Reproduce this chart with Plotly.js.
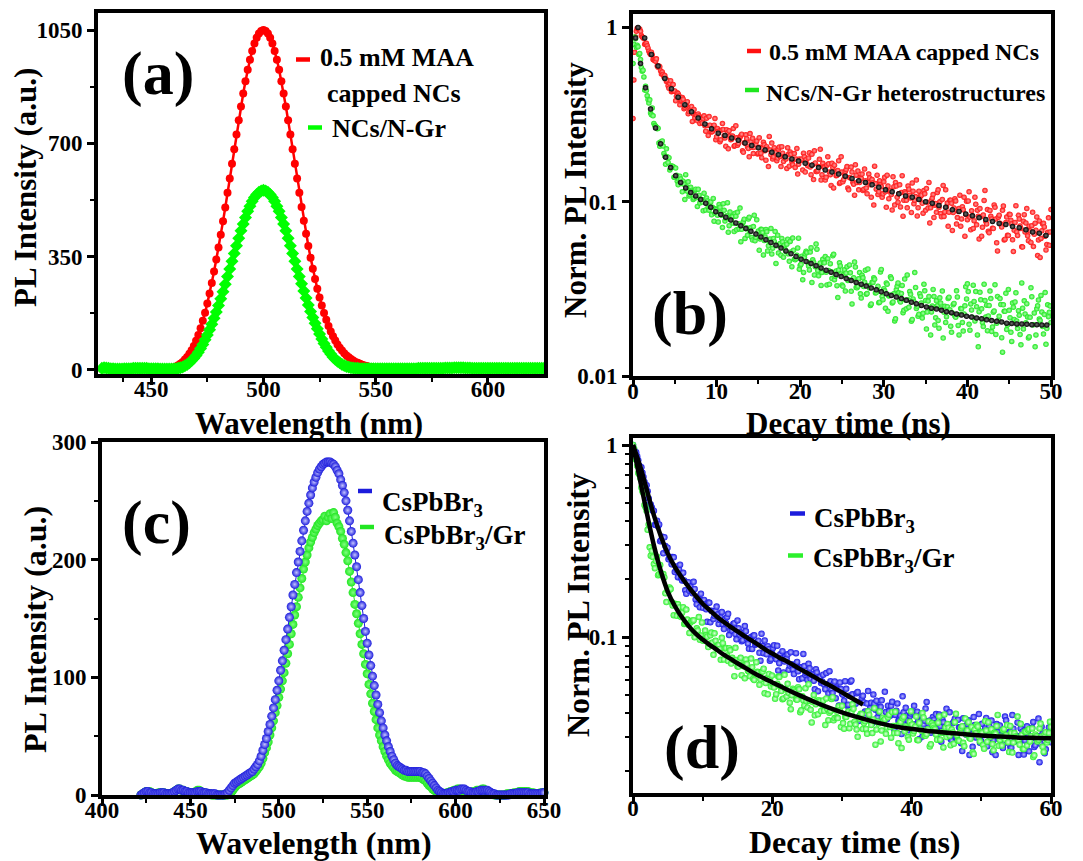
<!DOCTYPE html>
<html>
<head>
<meta charset="utf-8">
<script src="https://cdn.plot.ly/plotly-3.0.1.min.js"></script>
<style>
  html, body { margin: 0; padding: 0; background: #ffffff; }
  #chart { width: 1083px; height: 861px; }
</style>
</head>
<body>
<div id="chart"></div>
<script>
// ---------------- (a) steady-state PL: MAA-capped NCs vs NCs/N-Gr ----------------
const WL_A_START = 428;            // nm, 1 nm steps
const PL_A_MAA = [
  3,4,4,3,3,2,2,2,2,3,3,3,3,3,3,4,4,4,4,4,4,4,3,3,3,3,3,3,
  3,4,5,6,8,11,15,19,25,32,40,50,61,74,90,108,129,152,177,205,236,269,304,341,378,418,459,502,547,591,637,682,727,771,814,854,892,927,958,985,1008,1026,1039,1047,
  1050,1047,1039,1026,1008,985,958,927,892,854,814,771,727,682,637,591,547,503,461,421,383,347,313,281,251,224,199,176,155,136,119,104,91,79,69,60,52,45,39,34,29,25,22,19,16,14,12,10,9,8,7,6,5,5,4,4,
  4,3,3,3,3,3,3,3,3,3, 3,3,3,3,3,3,3,4,4,4, 4,4,4,4,4,5,5,5,5,5, 5,5,5,5,5,5,5,4,4,4, 4,4,4,4,3,3,3,3,3,3, 3,3,3,3,3,3,3,3,3,3, 3,3,3,3,3,3,3,3,3,3
];
const PL_A_NGR = [
  5,7,6,5,4,4,3,3,3,3,4,4,4,4,5,5,5,5,5,5,5,4,4,4,4,4,3,3,3,3,3,3,
  3,4,5,7,9,13,17,22,29,36,45,55,66,79,93,108,124,141,160,179,199,220,242,265,289,312,336,360,384,407,430,451,471,490,506,521,533,542,549,553,
  555,553,549,542,533,521,506,490,471,451,430,407,384,360,336,312,289,266,244,222,201,181,162,144,127,111,96,82,70,59,49,40,33,27,22,17,14,11,9,7,6,5,5,4,4,4,
  4,4,4,4,4,4,4,4,4,4, 4,4,4,4,4,4,4,4,4,4, 4,4,4,5,5,5,5,5,5,5, 5,5,5,5,5,6,6,6,6,7, 7,7,7,7,6,6,6,5,5,5, 5,5,5,5,5,5,5,5,5,5, 5,5,5,5,5,5,5,5,5,5, 5,5,5,5,5,5,5,5,5,5
];

// ---------------- (b) TRPL decays with fits ----------------
// counts are stored as two interleaved channel sets: t = 0.2k and t = 0.1 + 0.2k (ns)
const T_B_STEP = 0.2;
const DECAY_B_MAA_EVEN = [
  0.30,0.72,0.95,0.99,0.98,0.90,0.875,0.80,0.81,0.76,
  0.71,0.72,0.655,0.645,0.66,0.59,0.595,0.54,0.537,0.53,
  0.49,0.462,0.478,0.427,0.47,0.432,0.403,0.416,0.36,0.383,
  0.387,0.348,0.357,0.32,0.345,0.352,0.32,0.303,0.315,0.319,
  0.281,0.29,0.30,0.273,0.301,0.24,0.275,0.251,0.26,0.30,
  0.236,
  .254,.221,.258,.260,.232,.259,.201,.238,.228,.263,
  .210,.233,.216,.234,.244,.192,.217,.23,.202,.246,
  .205,.189,.215,.223,.19,.205,.179,.219,.196,.207,
  .159,.198,.217,.181,.195,.172,.2,.182,.207,.17,
  .182,.155,.187,.193,.17,.175,.157,.202,.164,.172,
  .176,.190,.148,.165,.178,.158,.187,.134,.167,.149,
  .159,.200,.143,.158,.133,.162,.165,.143,.166,.120,
  .149,.142,.172,.129,.148,.134,.149,.159,.117,.137,
  .148,.126,.163,.129,.117,.138,.144,.118,.132,.111,
  .144,.125,.134,.0957,.127,.142,.114,.125,.106,.130,
  .114,.142,.104,.116,.0896,.122,.129,.106,.111,.0933,
  .141,.102,.112,.0922,.118,.105,.128,.0973,.107,.0828,
  .115,.108,.0979,.116,.0892,.0994,.129,.0922,.105,.0812,
  .0977,.113,.0928,.0855,.103,.0823,.117,.0982,.087,.102,
  .0684,.0921,.101,.0811,.0914,.0723,.0937,.106,.0845,.0789,
  .114,.069,.0832,.0778,.0967,.0893,.0611,.082,.0713,.1016,
  .077,.0901,.0663,.0824,.0704,.0959,.0797,.0522,.0837,.0739,
  .0892,.0602,.076,.0642,.0848,.0783,.0604,.0686,.0949,.064,
  .0796,.0702,.0549,.0843,.0755,.0637,.0724,.0584,.0869,.065,
  .0686,.0491,.0776,.0616,.0744,.0717,.0528,.0667,.0562,.0902
];
const DECAY_B_MAA_ODD = [
  .50,.88,.99,.97,.95,.88,.86,.80,.785,.73,.70,.695,.65,.64,.60,.60,.565,.555,.52,.51,
  .497,.447,.495,.431,.43,.38,.422,.406,.38,.396, .342,.356,.375,.329,.337,.289,.338,.315,.291,.31,
  .303,.283,.311,.254,.274,.308,.253,.253,.275,.227,
  .263,.253,.227,.281,.239,.208,.249,.255,.227,.238, .208,.273,.211,.228,.239,.196,.218,.242,.207,.181,
  .221,.231,.205,.213,.188,.233,.19,.202,.212,.173, .2,.237,.186,.176,.204,.192,.178,.206,.159,.19,
  .1815,.176,.204,.16,.187,.163,.189,.176,.144,.176,
  .173,.152,.181,.174,.161,.191,.143,.163,.196,.149, .151,.175,.133,.166,.157,.138,.181,.148,.124,.157,
  .162,.141,.151,.127,.181,.13,.143,.153,.12,.1375, .158,.129,.109,.142,.15,.129,.136,.116,.154,.12,
  .129,.137,.106,.128,.16,.118,.11,.132,.122,.111,
  .138,.0928,.123,.115,.11,.139,.0957,.123,.0994,.125, .113,.0826,.114,.102,.123,.109,.0868,.115,.102,.133,
  .0923,.1028,.109,.0859,.111,.119,.0919,.0754,.102,.11, .0954,.0869,.117,.0998,.082,.124,.0874,.0937,.0722,.102,
  .0979,.0868,.104,.0744,.0883,.109,.0797,.0899,.0634,.1005,
  .101,.0816,.0887,.0703,.106,.0737,.0826,.0913,.0634,.0839, .116,.0745,.0676,.0891,.0796,.0702,.0928,.0581,.0815,.0752,
  .0715,.0945,.0609,.0817,.064,.0845,.0746,.0518,.076,.0671, .0835,.0725,.0551,.0773,.0671,.0914,.0598,.068,.0729,.0553,
  .0753,.0818,.0603,.0479,.0682,.0752,.0634,.0568,.0808,.0671
];
const DECAY_B_NGR_EVEN = [
  0.62,0.88,0.77,0.775,0.709,0.589,0.568,0.438,0.434,0.386,
  0.384,0.315,0.311,0.274,0.267,0.264,0.208,0.213,0.209,0.183,
  0.201,0.168,0.152,0.161,0.159,0.138,0.142,0.125,0.14,0.127,
  0.131,0.103,0.122,0.130,0.110,0.116,0.103,0.116,0.1055,0.118,
  0.0984,0.103,0.0886,0.103,0.105,0.0934,0.094,0.0841,0.1045,0.086,
  0.0898,
  .0765,.0929,.0837,.0975,.0776,.0832,.0668,.0873,.0819,.0752,
  .0858,.069,.0748,.0919,.0694,.0767,.0616,.071,.0795,.0672,
  .0624,.072,.0597,.0788,.068,.0612,.0692,.0495,.0628,.0673,
  .0558,.0612,.0501,.0615,.0674,.0558,.0508,.0575,.0616,.048,
  .0531,.057,.0502,.0592,.0424,.0527,.0464,.0493,.0618,.043,
  .0487,.0393,.0503,.0511,.0428,.0514,.0344,.045,.0424,.0534,
  .0376,.0445,.0393,.0448,.0485,.0333,.0403,.0441,.0362,.0499,
  .0374,.033,.0406,.0428,.0333,.038,.0307,.0424,.0357,.0391,
  .0259,.0366,.0422,.0321,.0361,.0296,.0378,.0326,.0405,.0297,
  .033,.0254,.0345,.0366,.0299,.0312,.0263,.0395,.0286,.0317,
  .0245,.0336,.0288,.0371,.0262,.0296,.0213,.0327,.03,.0266,
  .0331,.0238,.0273,.038,.0248,.0294,.0211,.0267,.0322,.0251,
  .0226,.0286,.0215,.0336,.0271,.0233,.0286,.0172,.0252,.0286,
  .0216,.0253,.0188,.0262,.0307,.0232,.0203,.025,.0283,.0193,
  .023,.0261,.0217,.0284,.0172,.0244,.0203,.0227,.0325,.0338,
  .0198,.0259,.0217,.0268,.0305,.0172,.0234,.0274,.0203,.0336,
  .0218,.0182,.0254,.0278,.0191,.0236,.0173,.0286,.022,.0257,
  .0137,.0235,.0298,.0196,.0238,.0178,.0262,.0211,.03,.0187,
  .0223,.0151,.0245,.027,.0202,.0218,.0168,.0321,.0197,.023,
  .0172,.0253,.0212,.029,.0192,.0225,.0152,.0256,.0232,.0203
];
const DECAY_B_NGR_ODD = [
  .80,.86,.79,.70,.655,.56,.52,.46,.405,.368,
  .323,.345,.281,.272,.262,.217,.22,.223,.189,.164, .181,.179,.156,.157,.138,.156,.131,.134,.135,.114,
  .126,.143,.115,.108,.121,.114,.105,.118,.094,.109, .103,.0995,.112,.0896,.101,.0893,.0997,.0928,.0773,.091,
  .0836,.0963,.0868,.0711,.0892,.0804,.0987,.0729,.079,.0821, .0674,.0826,.0869,.0698,.059,.0748,.0794,.07,.0643,.0814,
  .0711,.0602,.0836,.0625,.0657,.0527,.0696,.0666,.0599,.0692, .0522,.0596,.0703,.054,.0592,.0442,.0642,.0566,.0493,.0588,
  .0562,.0517,.0609,.0455,.0514,.0619,.0467,.0471,.0543,.041,
  .0437,.0357,.048,.052,.0449,.0406,.0545,.0464,.038,.0572, .0403,.043,.0331,.0467,.0446,.0394,.0471,.0336,.0397,.0489,
  .0357,.0401,.0282,.0446,.0385,.0327,.0407,.0389,.0353,.0434, .0306,.0358,.0451,.0322,.0327,.0392,.028,.0366,.0345,.0294,
  .0411,.032,.0259,.0344,.0359,.0301,.0327,.0265,.0409,.0274,
  .0308,.0342,.0235,.0292,.0363,.0266,.0207,.0313,.0342,.0271, .0297,.0231,.036,.0243,.0274,.0305,.0206,.0277,.0392,.0244,
  .022,.0296,.0262,.0229,.0308,.0186,.0269,.0246,.0233,.0314, .0196,.027,.0208,.0281,.0245,.0165,.0251,.0219,.0278,.024,
  .0178,.0256,.0221,.0308,.0195,.0225,.0243,.0181,.0253,.0277,
  .0305,.0183,.0239,.0332,.0207,.025,.0147,.0302,.0243,.0192, .0271,.0255,.0221,.0307,.018,.0232,.0334,.0201,.0208,.0278,
  .0166,.0256,.0235,.0185,.0314,.0216,.0158,.0248,.0266,.0207, .0237,.0173,.0342,.0186,.0227,.026,.0165,.0217,.0285,.0197,
  .0147,.0243,.0273,.0208,.0233,.0174,.0301,.0187,.0219,.0252
];
const FIT_B_MAA_T0 = 0.6, FIT_B_MAA_DT = 0.8;
const FIT_B_MAA = [
  1.0,0.87,0.70,0.60,0.51,0.445,0.398,0.36,0.328,0.302,0.279,0.262,0.247,0.240,0.232,0.225,
  0.217,0.210,0.204,0.198,0.192,0.186,0.181,0.176,0.171,0.166,0.162,0.157,0.152,0.148,0.144,
  0.140,0.136,0.132,0.129,0.125,0.121,0.117,0.114,0.111,0.108,0.106,0.103,0.100,0.098,0.095,
  0.093,0.090,0.088,0.085,0.083,0.081,0.079,0.077,0.075,0.074,0.072,0.071,0.069,0.067,0.066,0.064
];
const FIT_B_NGR_T0 = 0.3, FIT_B_NGR_DT = 0.6;
const FIT_B_NGR = [
  0.87,0.62,0.45,0.34,0.265,0.215,0.18,0.157,0.141,0.129,0.12,0.113,0.108,0.103,0.098,0.093,
  0.0877,0.0845,0.0815,0.0785,0.0756,0.0728,0.0702,0.0676,0.0652,0.0628,0.0605,0.0583,0.0562,
  0.0542,0.0522,0.0503,0.0485,0.0468,0.0454,0.0442,0.0429,0.0417,0.0405,0.0394,0.0382,0.0372,
  0.0362,0.0353,0.0344,0.0336,0.0328,0.032,0.0312,0.0304,0.0296,0.029,0.0284,0.0278,0.0272,
  0.0265,0.026,0.0254,0.0249,0.0245,0.0242,0.0238,0.0234,0.0231,0.0227,0.0224,0.022,0.0218,
  0.0215,0.0213,0.021,0.0208,0.0206,0.0204,0.0201,0.02,0.0199,0.0199,0.0198,0.0197,0.0197,
  0.0196,0.0196
];

// ---------------- (c) steady-state PL: CsPbBr3 vs CsPbBr3/Gr ----------------
const WL_C_START = 422;            // nm, 1 nm steps
const PL_C_CSPBBR3 = [
  0,1,2,3,3,2,2,1,1,1,1,2,2,2,1,1,1,1,2,3,4,5,5,4,4,3,3,2,2,2,2,2,3,3,3,2,2,2,1,1,1,1,1,0,0,0,0,0,1,2,
  4,6,8,10,11,12,13,14,15,16,17,18,19,20,22,24,26,29,33,38,43,48,54,60,67,74,81,89,97,106,114,123,132,141,151,160,170,179,189,198,207,216,225,233,241,248,
  255,261,266,270,274,277,279,281,282,283,283,283,282,281,279,276,273,268,263,257,250,242,233,224,214,204,194,183,172,161,150,139,129,119,110,101,93,85,77,70,63,57,51,46,41,37,33,30,27,25,24,23,22,
  21,21,20,20,20,20,20,20,20,20, 19,19,18,16,14,12,10,8,6,4, 3,2,1,1,1,2,2,3,3,4, 4,4,5,5,5,4,3,3,2,2,
  2,3,3,4,4,4,4,4,3,2, 1,1,0,0,0,0,0,0,0,0, 1,1,1,1,2,2,2,2,2,2, 2,1,1,1,1,1,1,1,2,2
];
const PL_C_GR = [
  0,1,2,3,3,3,2,1,1,1,2,2,2,2,1,1,1,1,2,3,4,5,5,4,4,3,3,2,2,2,2,3,4,4,3,2,2,1,1,1,0,0,0,0,0,0,0,0,0,0,
  1,2,4,6,8,9,10,11,12,13,14,15,16,17,18,20,22,24,27,31,36,40,45,51,57,63,70,76,83,90,97,104,112,120,128,137,145,153,160,168,176,184,192,198,204,210,
  215,219,223,226,229,231,233,234,237,233,236,239,235,240,236,231,228,224,218,213,206,199,190,181,172,162,154,146,137,128,120,111,103,94,86,78,71,64,57,51,46,41,37,33,30,27,25,23,21,20,19,18,17,
  16,16,15,15,15,15,15,15,15,15, 14,13,12,10,8,7,5,4,3,2, 1,1,1,1,2,2,3,3,4,4, 5,5,4,4,3,3,2,2,2,3,
  3,4,4,4,5,5,4,3,2,1, 1,0,0,0,0,0,0,0,1,1, 1,1,2,2,2,3,3,3,3,3, 3,2,2,2,1,1,1,2,2,2
];

// ---------------- (d) TRPL decays with fits ----------------
// two interleaved channel sets: t = 0.3k and t = 0.15 + 0.3k (ns)
const T_D_STEP = 0.3;
const DECAY_D_CSPBBR3_EVEN = [
  1.0,.912,.875,.781,.766,.681,.61,.574,.488,.472,.455,
  .383,.377,.315,.333,.331,.282,.254,.261,.261,.218,
  .223,.225,.203,.216,.175,.191,.174,.175,.194,.157,
  .162,.143,.156,.156,.1395,.1514,.1193,.136,.129,.144,
  .117,.1265,.1167,.1236,.1273,.1023,.1124,.1168,.1036,.122,
  .103,.095,.105,.1072,.0925,.0982,.0867,.1021,.0923,.0956,
  .0753,.0898,.0959,.0813,.0864,.0767,.0877,.0791,.09,.0731,
  .0777,.0654,.0791,.0812,.071,.0722,.0641,.0824,.0663,.0696,
  .0609,.0706,.065,.0726,.0605,.0636,.0534,.0654,.0619,.0576,
  .0636,.0535,.0567,.0664,.0531,.0572,.048,.0534,.058,.0507,
  .0466,.0537,.0444,.0585,.0503,.0452,.051,.0365,.0461,.0494,
  .0409,.045,.0369,.0455,.0502,.0418,.0382,.0434,.0468,.0366,
  .0407,.0439,.0389,.046,.0331,.0413,.0366,.039,.0491,.035,
  .0389,.0327,.0399,.0405,.0351,.0408,.0294,.0367,.035,.0424,
  .0318,.0367,.0333,.0371,.0397,.0293,.0344,.0372,.0317,.0423,
  .0327,.0294,.0355,.0375,.0299,.0339,.028,.0377,.0322,.0352,
  .0243,.0334,.0383,.03,.0335,.0281,.0353,.0309,.0379,.0286,
  .0317,.0251,.0332,.0352,.0295,.0308,.0264,.0385,.0289,.0316,
  .0265,.0333,.03,.0359,.0282,.0308,.0244,.0332,.0312,.0288,
  .0337,.0267,.0295,.0376,.0278,.0314,.0248,.0295,.0338,.0283
];
const DECAY_D_CSPBBR3_ODD = [
  .951,.917,.834,.742,.716,.642,.617,.527,.49,.455,
  .384,.403,.386,.32,.273,.298,.292,.26,.239,.26, .233,.205,.238,.197,.197,.168,.193,.183,.169,.178,
  .148,.157,.168,.142,
  .148,.12,.151,.137,.124,.137,.131,.123,.135,.11, .118,.132,.109,.108,.118,.0972,.111,.106,.0963,.114,
  .0985,.0868,.1,.1016,.0912,.0944,.0827,.104,.0824,.087, .0896,.0753,.0822,
  .0906,.0766,.0669,.0813,.0844,.0745,.0772,.0675,.0833,.0678, .0712,.0742,.0603,.0691,.0816,.0636,.0598,.0687,.064,.0592,
  .0679,.0522,.0618,.0586,.0565,.0649,.0508,.0588,.0511,.0586, .0543,.044,.0536,
  .0501,.0589,.0438,.0494,.0593,.0446,.0449,.0517,.0389,.0482, .0456,.0399,.0523,.0425,.0357,.045,.0466,.0404,.0432,.0363,
  .0518,.0373,.041,.0438,.0343,.0393,.0451,.0368,.0312,.0405, .0428,.0368,.0388,.033,.0438,.0339,.0366,.0391,.0303,.0367,
  .0459,.0338,.0317,.0383,.0355,.0325,.0395,.0285,.036,.034,
  .0327,.0405,.0289,.0362,.03,.0371,.0338,.0255,.0342,.031, .0368,.033,.0268,.0348,.0313,.0397,.0287,.0317,.0334,.027,
  .0343,.0367,.029,.0243,.032,.0346,.0304,.0279,.0368,.0319, .0268,.0392,.0286,.0306,.0243,.0334,.0322,.0289,.0343,.0254,
  .0297,.0361,.0273,.0305,.0223,.0341,.03,.026,.0319,.0308
];
const DECAY_D_GR_EVEN = [
  1.0,.851,.78,.702,.60,.563,.474,.362,.293,.281,.24,
  .249,.21,.237,.209,.204,.152,.173,.178,.146,.149,
  .129,.1426,.127,.143,.118,.1232,.105,.1214,.1223,.1073,
  .108,.0967,.119,.0976,.102,.0887,.1021,.0935,.1045,.0868,
  .0909,.0761,.0929,.087,.0801,.0875,.0727,.076,.0878,.0701,
  .0755,.0633,.0704,.0764,.0667,.0625,.0696,.0598,.0738,.0656,
  .0602,.0661,.0509,.061,.0642,.0553,.0568,.0477,.0571,.0619,
  .0523,.0479,.0535,.057,.0455,.0498,.053,.0474,.0548,.0406,
  .0492,.044,.0464,.0568,.0418,.0458,.0391,.0465,.0469,.0412,
  .0467,.0348,.0422,.0403,.0476,.0368,.0414,.0378,.0414,.0438,
  .0333,.0383,.0409,.0353,.0446,.0362,.033,.0383,.0398,.0332,
  .0365,.0313,.0394,.0348,.0372,.0275,.0363,.0409,.0326,.0367,
  .0313,.0382,.034,.0407,.0316,.0345,.028,.0361,.0377,.0323,
  .0335,.0292,.041,.0314,.0341,.0291,.0357,.0325,.0381,.0306,
  .0331,.0269,.0355,.0336,.0311,.0358,.0292,.0319,.0395,.0301,
  .0337,.0273,.0318,.036,.0308,.0288,.0336,.0281,.0376,.0327,
  .0298,.034,.0246,.0315,.0342,.0286,.0317,.0262,.0326,.036,
  .0302,.0277,.0317,.0344,.0271,.0303,.0328,.0293,.0348,.0252,
  .0317,.0282,.0303,.0385,.0275,.0309,.0261,.0321,.0328,.0286,
  .0334,.0242,.0304,.0292,.0354,.0268,.031,.0282,.0316,.034
];
const DECAY_D_GR_ODD = [
  .955,.836,.715,.672,.574,.487,.455,.386,.265,.261,
  .228,.262,.212,.214,.213,.169,.176,.181,.152,.13, .148,.148,.129,.134,.117,.139,.116,.119,.121,.0997,
  .111,.127,.1017,.0956,
  .108,.1003,.0922,.1055,.0808,.0956,.0903,.0866,.099,.0764, .0876,.075,.0852,.0779,.0625,.076,.0701,.078,.0715,.0609,
  .0723,.0662,.0772,.0607,.0643,.066,.0564,.0659,.0684,.0576, .0503,.0603,.063,
  .0545,.0504,.0622,.0551,.0474,.0635,.049,.0512,.0421,.0538, .0518,.0471,.0534,.0415,.0468,.0541,.0429,.0466,.0359,.0499,
  .0446,.0396,.0462,.0444,.0413,.0479,.0369,.0412,.0486,.0378, .0382,.0436,.034,
  .0356,.0384,.0399,.0335,.0404,.0423,.035,.0302,.0375,.0397, .0356,.0332,.041,.0365,.0316,.0426,.033,.0354,.0286,.038,
  .0373,.0338,.0394,.0299,.0344,.0408,.0316,.035,.0264,.0384, .0342,.0301,.0362,.035,.0324,.0385,.029,.0331,.0402,.0306,
  .0312,.0363,.0276,.0346,.0331,.0292,.0386,.0316,.0266,.0338,
  .0352,.0306,.033,.0278,.0398,.0289,.032,.0343,.027,.0311, .036,.0295,.0251,.0329,.0349,.0302,.032,.0274,.0365,.0285,
  .0308,.0331,.0257,.0314,.0393,.0291,.0272,.0332,.0308,.0283, .0344,.025,.0316,.03,.0291,.0353,.0261,.0321,.0272,.0332,
  .0304,.0237,.0311,.0286,.0334,.0303,.0252,.0319,.0291,.0362
];
const FIT_D_CSPBBR3_T = [0,1,2,3,4,5,6,7,8,9,10,11,12,13,14,15,16,17,18,19,20,21,22,23,24,25,26,27,28,29,30,31,32,33];
const FIT_D_CSPBBR3 = [1,0.78,0.58,0.43,0.335,0.272,0.232,0.204,0.182,0.164,0.149,0.138,0.128,0.12,0.113,0.107,0.101,0.096,0.091,0.086,0.082,0.078,0.075,0.0715,0.068,0.065,0.062,0.059,0.0565,0.054,0.0515,0.049,0.0467,0.0445];
const FIT_D_GR_T = [0,1,2,3,4,5,6,7,8,9,10,11,12,13,14,15,16,17,18,19,20,22,24,26,28,30,32,34,36,38,40,42,44,46,48,50,52,54,56,58,60];
const FIT_D_GR = [1,0.66,0.44,0.30,0.22,0.172,0.145,0.127,0.114,0.104,0.097,0.091,0.086,0.081,0.077,0.073,0.0695,0.066,0.063,0.0605,0.058,0.0535,0.0495,0.046,0.043,0.0405,0.0385,0.0367,0.0352,0.034,0.0332,0.0325,0.032,0.0315,0.0311,0.0307,0.0304,0.0301,0.0299,0.0298,0.0297];

// ---------------- tick labels ----------------
const TICKS_A_X = [450, 500, 550, 600];
const TICKS_A_Y = [0, 350, 700, 1050];
const TICKS_B_X = [0, 10, 20, 30, 40, 50];
const TICKS_B_Y = [0.01, 0.1, 1];
const TICKS_B_Y_TEXT = ['0.01', '0.1', '1'];
const TICKS_C_X = [400, 450, 500, 550, 600, 650];
const TICKS_C_Y = [0, 100, 200, 300];
const TICKS_D_X = [0, 20, 40, 60];
const TICKS_D_Y = [0.1, 1];
const TICKS_D_Y_TEXT = ['0.1', '1'];

// ---------------- helpers ----------------
const W = 1083, H = 861;
const px = v => v / W;
const py = v => 1 - v / H;
const grid = (start, step, n) => Array.from({ length: n }, (_, i) => +(start + i * step).toFixed(3));
const midpoints = v => v.slice(1).map((b, i) => (b + v[i]) / 2);
function interleave(a, b) {
  const out = [];
  a.forEach((v, i) => { out.push(v); if (i < b.length) out.push(b[i]); });
  return out;
}
const logMinor = [0.02,0.03,0.04,0.05,0.06,0.07,0.08,0.09,0.2,0.3,0.4,0.5,0.6,0.7,0.8,0.9];

const FONT = '"Liberation Serif", "Times New Roman", Times, serif';
const RED = '#ff0000', GREEN = '#00ff00', BLUE = '#1c1cdc';

function axis(extra) {
  return Object.assign({
    showline: true, linecolor: '#000', linewidth: 4, mirror: true,
    ticks: 'outside', ticklen: 7, tickwidth: 3, tickcolor: '#000',
    showgrid: false, zeroline: false, automargin: false, fixedrange: true,
    tickmode: 'array',
    tickfont: { family: FONT, size: 23, color: '#000', weight: 'bold' }
  }, extra);
}
function minor(vals) {
  return { tickvals: vals, ticks: 'outside', ticklen: 4, tickwidth: 2, tickcolor: '#000', showgrid: false };
}

// ---------------- traces ----------------
const traces = [];
const base = { hoverinfo: 'skip', showlegend: false };

// (a)
traces.push(Object.assign({
  x: grid(WL_A_START, 1, PL_A_MAA.length), y: PL_A_MAA, xaxis: 'x', yaxis: 'y',
  type: 'scatter', mode: 'lines+markers',
  line: { color: RED, width: 2.5 },
  marker: { symbol: 'circle', size: 8, color: RED, line: { width: 0 } }
}, base));
traces.push(Object.assign({
  x: grid(WL_A_START, 1, PL_A_NGR.length), y: PL_A_NGR, xaxis: 'x', yaxis: 'y',
  type: 'scatter', mode: 'lines+markers',
  line: { color: GREEN, width: 2 },
  marker: { symbol: 'diamond', size: 10, color: GREEN, line: { width: 0 } }
}, base));

// (b)
const decayBMaa = interleave(DECAY_B_MAA_EVEN, DECAY_B_MAA_ODD);
const decayBNgr = interleave(DECAY_B_NGR_EVEN, DECAY_B_NGR_ODD);
traces.push(Object.assign({
  x: grid(0, T_B_STEP / 2, decayBMaa.length), y: decayBMaa, xaxis: 'x2', yaxis: 'y2',
  type: 'scatter', mode: 'markers',
  marker: { size: 5.5, color: '#ff1010', gradient: { type: 'radial', color: '#ff9a9a' }, line: { width: 0 } }
}, base));
traces.push(Object.assign({
  x: grid(0, T_B_STEP / 2, decayBNgr.length), y: decayBNgr, xaxis: 'x2', yaxis: 'y2',
  type: 'scatter', mode: 'markers',
  marker: { size: 5.5, color: '#1ee61e', gradient: { type: 'radial', color: '#a8ffa8' }, line: { width: 0 } }
}, base));
traces.push(Object.assign({
  x: grid(FIT_B_MAA_T0, FIT_B_MAA_DT, FIT_B_MAA.length), y: FIT_B_MAA, xaxis: 'x2', yaxis: 'y2',
  type: 'scatter', mode: 'markers',
  marker: { size: 5.5, color: '#000', gradient: { type: 'radial', color: '#707070' }, line: { width: 0 } }
}, base));
traces.push(Object.assign({
  x: grid(FIT_B_NGR_T0, FIT_B_NGR_DT, FIT_B_NGR.length), y: FIT_B_NGR, xaxis: 'x2', yaxis: 'y2',
  type: 'scatter', mode: 'markers',
  marker: { size: 5.5, color: '#000', gradient: { type: 'radial', color: '#707070' }, line: { width: 0 } }
}, base));

// (c)
traces.push(Object.assign({
  x: grid(WL_C_START, 1, PL_C_GR.length), y: PL_C_GR, xaxis: 'x3', yaxis: 'y3',
  type: 'scatter', mode: 'lines+markers', cliponaxis: false,
  line: { color: '#22e622', width: 1 },
  marker: { size: 9, color: '#22e622', gradient: { type: 'radial', color: '#80ff80' }, line: { width: 0 } }
}, base));
traces.push(Object.assign({
  x: grid(WL_C_START, 1, PL_C_CSPBBR3.length), y: PL_C_CSPBBR3, xaxis: 'x3', yaxis: 'y3',
  type: 'scatter', mode: 'lines+markers', cliponaxis: false,
  line: { color: BLUE, width: 1 },
  marker: { size: 9, color: BLUE, gradient: { type: 'radial', color: '#c4c4ff' }, line: { width: 0 } }
}, base));

// (d)
const decayDCs = interleave(DECAY_D_CSPBBR3_EVEN, DECAY_D_CSPBBR3_ODD);
const decayDGr = interleave(DECAY_D_GR_EVEN, DECAY_D_GR_ODD);
traces.push(Object.assign({
  x: grid(0, T_D_STEP / 2, decayDCs.length), y: decayDCs, xaxis: 'x4', yaxis: 'y4',
  type: 'scatter', mode: 'markers',
  marker: { size: 6.5, color: '#1818e6', gradient: { type: 'radial', color: '#b8b8ff' }, line: { width: 0 } }
}, base));
traces.push(Object.assign({
  x: grid(0, T_D_STEP / 2, decayDGr.length), y: decayDGr, xaxis: 'x4', yaxis: 'y4',
  type: 'scatter', mode: 'markers',
  marker: { size: 6.5, color: '#2cf02c', gradient: { type: 'radial', color: '#dcffdc' }, line: { width: 0 } }
}, base));
traces.push(Object.assign({
  x: FIT_D_CSPBBR3_T, y: FIT_D_CSPBBR3, xaxis: 'x4', yaxis: 'y4',
  type: 'scatter', mode: 'lines', line: { color: '#000', width: 4.5, shape: 'spline' }
}, base));
traces.push(Object.assign({
  x: FIT_D_GR_T, y: FIT_D_GR, xaxis: 'x4', yaxis: 'y4',
  type: 'scatter', mode: 'lines', line: { color: '#000', width: 4.5, shape: 'spline' }
}, base));

// ---------------- text ----------------
function txt(text, x, y, size, opts) {
  return Object.assign({
    text: text, xref: 'paper', yref: 'paper', x: px(x), y: py(y),
    xanchor: 'center', yanchor: 'middle', showarrow: false,
    font: { family: FONT, size: size, color: '#000', weight: 'bold' }
  }, opts || {});
}
const annotations = [
  // axis titles
  txt('Wavelength (nm)', 309, 424, 31),
  txt('Decay time (ns)', 848, 424, 31),
  txt('Wavelength (nm)', 314, 843, 32),
  txt('Decay time (ns)', 854, 842, 32),
  txt('PL Intensity (a.u.)', 26, 188, 31, { textangle: -90 }),
  txt('Norm. PL Intensity', 576, 190, 31, { textangle: -90 }),
  txt('PL Intensity (a.u.)', 35, 630, 32, { textangle: -90 }),
  txt('Norm. PL Intensity', 578, 605, 32, { textangle: -90 }),
  // panel letters
  txt('(a)', 158, 74, 62),
  txt('(b)', 690, 313, 62),
  txt('(c)', 156, 522, 62),
  txt('(d)', 702, 747, 62),
  // legends
  txt('0.5 mM MAA', 318, 57, 26, { xanchor: 'left' }),
  txt('capped NCs', 325, 94, 26, { xanchor: 'left' }),
  txt('NCs/N-Gr', 330, 128, 26, { xanchor: 'left' }),
  txt('0.5 mM MAA capped NCs', 767, 52, 24, { xanchor: 'left' }),
  txt('NCs/N-Gr heterostructures', 764, 93, 24, { xanchor: 'left' }),
  txt('CsPbBr<sub>3</sub>', 380, 504, 27, { xanchor: 'left' }),
  txt('CsPbBr<sub>3</sub>/Gr', 382, 537, 27, { xanchor: 'left' }),
  txt('CsPbBr<sub>3</sub>', 812, 520, 27, { xanchor: 'left' }),
  txt('CsPbBr<sub>3</sub>/Gr', 811, 560, 27, { xanchor: 'left' })
];
function key(x0, x1, y, color) {
  return { type: 'line', xref: 'paper', yref: 'paper', x0: px(x0), x1: px(x1), y0: py(y), y1: py(y),
           line: { color: color, width: 4.5 } };
}
const shapes = [
  key(296, 310, 59.5, RED), key(308, 322, 127.5, GREEN),
  key(747, 761, 51, '#ff1010'), key(745, 759, 90, '#1ee61e'),
  key(358, 372, 491, BLUE), key(360, 374, 527, '#22e622'),
  key(790, 805, 513.5, BLUE), key(788, 803, 555.5, '#2cf02c')
];

// ---------------- layout ----------------
const XSTAND = -16;
const layout = {
  width: W, height: H,
  margin: { l: 0, r: 0, t: 0, b: 0 },
  paper_bgcolor: '#fff', plot_bgcolor: '#fff',
  showlegend: false,
  font: { family: FONT, color: '#000' },
  xaxis: axis({ domain: [px(98), px(544)], range: [426.3, 625], anchor: 'y', ticklabelstandoff: XSTAND,
                tickvals: TICKS_A_X, minor: minor(midpoints([425].concat(TICKS_A_X))) }),
  yaxis: axis({ domain: [py(374), py(13)], range: [-12.4, 1102.5], anchor: 'x',
                tickvals: TICKS_A_Y, minor: minor(midpoints(TICKS_A_Y)) }),
  xaxis2: axis({ domain: [px(633), px(1051)], range: [0, 50], anchor: 'y2', ticklabelstandoff: XSTAND,
                 tickvals: TICKS_B_X, minor: minor(midpoints(TICKS_B_X)) }),
  yaxis2: axis({ domain: [py(376), py(14)], type: 'log', range: [-2, 0.077], anchor: 'x2',
                 tickvals: TICKS_B_Y, ticktext: TICKS_B_Y_TEXT }),
  xaxis3: axis({ domain: [px(102), px(544)], range: [400, 650], anchor: 'y3', ticklabelstandoff: XSTAND,
                 tickvals: TICKS_C_X, minor: minor(midpoints(TICKS_C_X)) }),
  yaxis3: axis({ domain: [py(795), py(442)], range: [0, 300], anchor: 'x3',
                 tickvals: TICKS_C_Y, minor: minor(midpoints(TICKS_C_Y)) }),
  xaxis4: axis({ domain: [px(633), px(1051)], range: [0, 60], anchor: 'y4', ticklabelstandoff: XSTAND,
                 tickvals: TICKS_D_X, minor: minor(midpoints(TICKS_D_X)) }),
  yaxis4: axis({ domain: [py(793), py(438)], type: 'log', range: [-1.8125, 0.0365], anchor: 'x4',
                 tickvals: TICKS_D_Y, ticktext: TICKS_D_Y_TEXT, minor: minor(logMinor) }),
  annotations: annotations,
  shapes: shapes
};

Plotly.newPlot('chart', traces, layout, { staticPlot: true, displayModeBar: false });
</script>
</body>
</html>
